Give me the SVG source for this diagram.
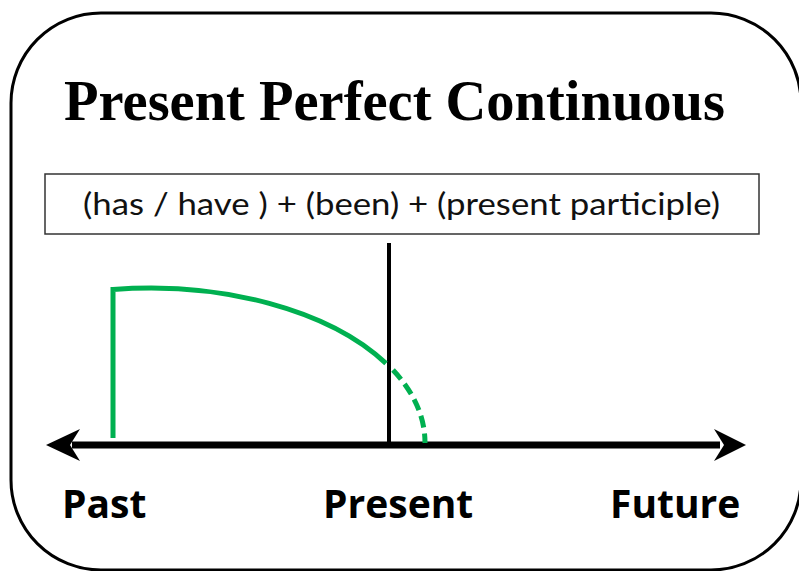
<svg xmlns="http://www.w3.org/2000/svg" width="799" height="571" viewBox="0 0 799 571">
  <style>
    .title { font-family: "Liberation Serif", "Times New Roman", serif; font-weight: bold; font-size: 56px; fill: #000; }
    .formula { font-family: Lato, "Open Sans", sans-serif; font-size: 30px; fill: #111; }
    .label { font-family: "Open Sans", "Liberation Sans", sans-serif; font-weight: bold; font-size: 39px; fill: #000; }
    .green { fill: none; stroke: #00B050; stroke-width: 5; }
  </style>
  <rect x="11" y="13" width="790" height="557" rx="90" ry="90" fill="#fff" stroke="#000" stroke-width="3"/>
  <text class="title" x="64" y="120" textLength="661" lengthAdjust="spacingAndGlyphs">Present Perfect Continuous</text>
  <g id="formula">
    <rect x="45" y="174" width="714" height="60" fill="#fff" stroke="#333" stroke-width="1.5"/>
    <text class="formula" x="83" y="215" textLength="637" lengthAdjust="spacingAndGlyphs">(has / have ) + (been) + (present participle)</text>
  </g>
  <g id="connectors">
    <line x1="389" y1="243" x2="389" y2="445" stroke="#000" stroke-width="4"/>
    <line x1="72" y1="445" x2="720" y2="445" stroke="#000" stroke-width="7"/>
    <polygon points="46,445 80,429 70,445 80,461" fill="#000"/>
    <polygon points="746,445 714,429 724,445 714,461" fill="#000"/>
    <path class="green" d="M113,438 V289.4 A275,155 0 0 1 386,363.4"/>
    <path class="green" d="M393,370 A275,155 0 0 1 425,443" stroke-dasharray="12 6"/>
  </g>
  <g id="past"><text class="label" x="62" y="518">Past</text></g>
  <g id="present"><text class="label" x="323" y="518">Present</text></g>
  <g id="future"><text class="label" x="610" y="518">Future</text></g>
</svg>
